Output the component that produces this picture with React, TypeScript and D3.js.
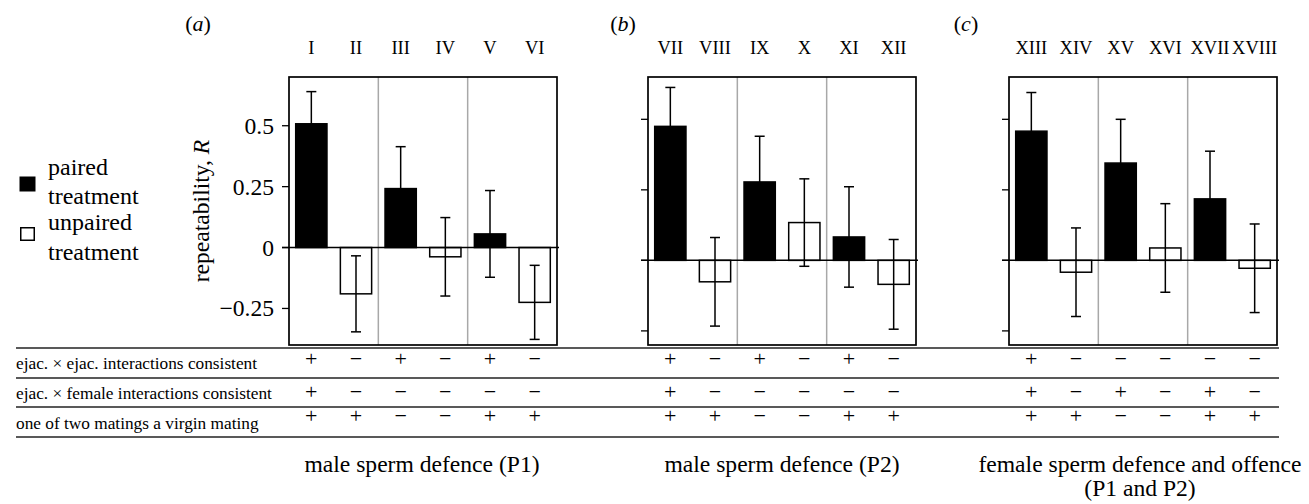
import React from "react";
import * as d3 from "d3";

// ---------- data ----------
const categoriesA = ["I", "II", "III", "IV", "V", "VI"];
const categoriesB = ["VII", "VIII", "IX", "X", "XI", "XII"];
const categoriesC = ["XIII", "XIV", "XV", "XVI", "XVII", "XVIII"];

const valuesA = [0.508, -0.19, 0.242, -0.038, 0.056, -0.225];
const errorsA = [0.132, 0.156, 0.172, 0.161, 0.178, 0.152];
const valuesB = [0.475, -0.076, 0.278, 0.134, 0.083, -0.085];
const errorsB = [0.138, 0.157, 0.162, 0.155, 0.178, 0.159];
const valuesC = [0.458, -0.042, 0.345, 0.044, 0.218, -0.028];
const errorsC = [0.137, 0.157, 0.155, 0.157, 0.169, 0.157];

// paired (black) / unpaired (white) per position
const treatment = ["paired", "unpaired", "paired", "unpaired", "paired", "unpaired"];

const panelLetters = ["a", "b", "c"];
const domainA: [number, number] = [-0.4, 0.7];
const domainBC: [number, number] = [-0.3, 0.65];
const yTickValues = [-0.25, 0, 0.25, 0.5];
const yTickLabels = ["\u22120.25", "0", "0.25", "0.5"];

const legendLabels = [["paired", "treatment"], ["unpaired", "treatment"]];
const yAxisTitle = "repeatability, ";

const tableRowLabels = [
  "ejac. \u00d7 ejac. interactions consistent",
  "ejac. \u00d7 female interactions consistent",
  "one of two matings a virgin mating",
];
const row1Signs = ["+", "-", "+", "-", "+", "-", "+", "-", "+", "-", "+", "-", "+", "-", "-", "-", "-", "-"];
const row2Signs = ["+", "-", "-", "-", "-", "-", "+", "-", "-", "-", "-", "-", "+", "-", "+", "-", "+", "-"];
const row3Signs = ["+", "+", "-", "-", "+", "+", "+", "+", "-", "-", "+", "+", "+", "+", "-", "-", "+", "+"];

const bottomLabelA = ["male sperm defence (P1)"];
const bottomLabelB = ["male sperm defence (P2)"];
const bottomLabelC = ["female sperm defence and offence", "(P1 and P2)"];

// ---------- layout ----------
const W = 1309;
const H = 504;
const FONT = "Liberation Serif";
const BIG = 23.6;
const plotTop = 77;
const plotBottom = 345;
const panelW = 268;
const panels = [
  { x0: 289, cats: categoriesA, vals: valuesA, errs: errorsA, domain: domainA, labelX: 198, showLabels: true, bottom: bottomLabelA, bottomX: 422 },
  { x0: 648, cats: categoriesB, vals: valuesB, errs: errorsB, domain: domainBC, labelX: 623, showLabels: false, bottom: bottomLabelB, bottomX: 782 },
  { x0: 1009, cats: categoriesC, vals: valuesC, errs: errorsC, domain: domainBC, labelX: 966, showLabels: false, bottom: bottomLabelC, bottomX: 1140 },
];
const tableLinesY = [348, 378, 407, 437];
const tableLeft = 16;
const tableRight = 1279;
const rowTextBaselines = [369, 399, 429];
const signBaselines = [366, 399, 423];

function makeX(p: typeof panels[number]) {
  return d3
    .scaleBand<string>()
    .domain(p.cats)
    .range([p.x0, p.x0 + panelW])
    .paddingInner(0.3)
    .paddingOuter(0.15);
}

function Panel({ p, idx }: { p: typeof panels[number]; idx: number }) {
  const x = makeX(p);
  const y = d3.scaleLinear().domain(p.domain).range([plotBottom, plotTop]);
  const step = x.step();
  const dividers = [2, 4].map((k) => p.x0 + step * k);
  const capW = 10;
  return (
    <g>
      <text x={p.labelX} y={31} fontFamily={FONT} fontSize={22} textAnchor="middle">
        (<tspan fontStyle="italic">{panelLetters[idx]}</tspan>)
      </text>
      {p.cats.map((c) => (
        <text key={c} x={(x(c) as number) + x.bandwidth() / 2} y={54} fontFamily={FONT} fontSize={18.5} textAnchor="middle">
          {c}
        </text>
      ))}
      {dividers.map((dx, i) => (
        <line key={i} x1={dx} x2={dx} y1={plotTop} y2={plotBottom} stroke="#a8a8a8" strokeWidth={1.5} />
      ))}
      {yTickValues.map((t, i) => (
        <g key={t}>
          <line x1={p.x0 - 7} x2={p.x0} y1={y(t)} y2={y(t)} stroke="#000" strokeWidth={1.3} />
          {p.showLabels && (
            <text x={p.x0 - 15} y={y(t) + 8} fontFamily={FONT} fontSize={BIG} textAnchor="end">
              {yTickLabels[i]}
            </text>
          )}
        </g>
      ))}
      {p.cats.map((c, i) => {
        const v = p.vals[i];
        const y0 = y(0);
        const yv = y(v);
        return (
          <rect
            key={c}
            x={x(c)}
            width={x.bandwidth()}
            y={Math.min(y0, yv)}
            height={Math.abs(yv - y0)}
            fill={treatment[i] === "paired" ? "#000" : "#fff"}
            stroke="#000"
            strokeWidth={1.5}
          />
        );
      })}
      <line x1={p.x0 - 7} x2={p.x0 + panelW + 2} y1={y(0)} y2={y(0)} stroke="#000" strokeWidth={1.5} />
      {p.cats.map((c, i) => {
        const cx = (x(c) as number) + x.bandwidth() / 2;
        const hi = y(p.vals[i] + p.errs[i]);
        const lo = y(p.vals[i] - p.errs[i]);
        return (
          <g key={c} stroke="#000" strokeWidth={1.5}>
            <line x1={cx} x2={cx} y1={hi} y2={lo} />
            <line x1={cx - capW / 2} x2={cx + capW / 2} y1={hi} y2={hi} />
            <line x1={cx - capW / 2} x2={cx + capW / 2} y1={lo} y2={lo} />
          </g>
        );
      })}
      <rect x={p.x0} y={plotTop} width={panelW} height={plotBottom - plotTop} fill="none" stroke="#000" strokeWidth={1.7} />
      {p.bottom.map((t, k) => (
        <text key={k} x={p.bottomX} y={472 + k * 24} fontFamily={FONT} fontSize={BIG} textAnchor="middle">
          {t}
        </text>
      ))}
    </g>
  );
}

export default function App() {
  const allSigns = [row1Signs, row2Signs, row3Signs];
  const allCenters: number[] = [];
  panels.forEach((p) => {
    const x = makeX(p);
    p.cats.forEach((c) => allCenters.push((x(c) as number) + x.bandwidth() / 2));
  });
  return (
    <svg width={W} height={H} style={{ position: "absolute", left: 0, top: 0, background: "#fff" }}>
      <rect width={W} height={H} fill="#fff" />
      <rect x={20} y={177} width={15} height={14} fill="#000" stroke="#000" strokeWidth={1} />
      <rect x={20.75} y={227.75} width={13.5} height={12.5} fill="#fff" stroke="#000" strokeWidth={1.5} />
      <text x={48} y={175} fontFamily={FONT} fontSize={24}>{legendLabels[0][0]}</text>
      <text x={48} y={204} fontFamily={FONT} fontSize={24}>{legendLabels[0][1]}</text>
      <text x={48} y={230} fontFamily={FONT} fontSize={24}>{legendLabels[1][0]}</text>
      <text x={48} y={260} fontFamily={FONT} fontSize={24}>{legendLabels[1][1]}</text>
      <text transform="translate(209,211) rotate(-90)" fontFamily={FONT} fontSize={BIG} textAnchor="middle">
        {yAxisTitle}
        <tspan fontStyle="italic">R</tspan>
      </text>
      {panels.map((p, i) => (
        <Panel key={i} p={p} idx={i} />
      ))}
      {tableLinesY.map((ly, i) => (
        <line key={i} x1={tableLeft} x2={tableRight} y1={ly} y2={ly} stroke="#222" strokeWidth={1.5} />
      ))}
      {tableRowLabels.map((t, i) => (
        <text key={t} x={tableLeft} y={rowTextBaselines[i]} fontFamily={FONT} fontSize={17.3}>
          {t}
        </text>
      ))}
      {allSigns.map((row, r) =>
        row.map((s, k) => (
          <text key={r + "-" + k} x={allCenters[k]} y={signBaselines[r]} fontFamily={FONT} fontSize={22} textAnchor="middle">
            {s === "+" ? "+" : "\u2212"}
          </text>
        ))
      )}
    </svg>
  );
}
